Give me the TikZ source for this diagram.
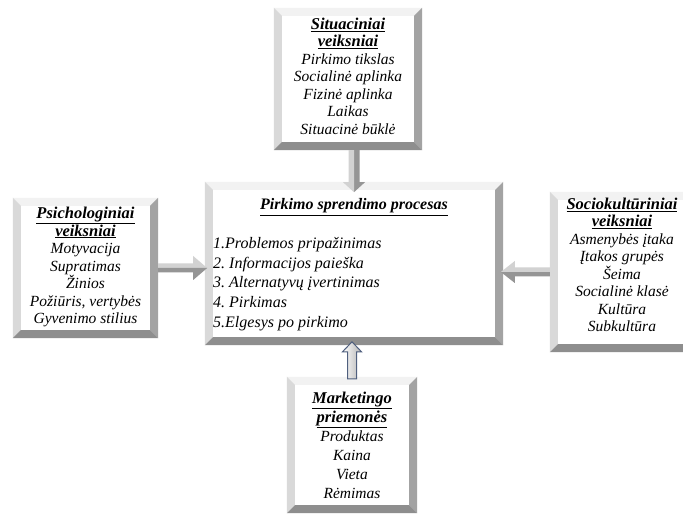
\documentclass[tikz,border=0pt]{standalone}
\usepackage{fontspec}
\setmainfont{Liberation Serif}
\usetikzlibrary{calc}
\frenchspacing

\definecolor{bevTop}{HTML}{F2F2F2}
\definecolor{bevLeft}{HTML}{D9D9D9}
\definecolor{bevRight}{HTML}{A3A3A3}
\definecolor{bevBottom}{HTML}{8E8E8E}
\definecolor{arrLight}{HTML}{D2D2D2}
\definecolor{arrDark}{HTML}{959595}
\definecolor{arrEdge}{HTML}{4F5F7E}

% heading line: bold italic, underlined
\newcommand\hd[1]{{\fontsize{16.5}{19}\selectfont\bfseries\underline{#1}}}

% four bevel bands round a rectangular node
\newcommand\bevelbox[1]{%
  \fill[bevTop] (#1.north west) -- (#1.north east) -- ([shift={(-8pt,-8pt)}]#1.north east) -- ([shift={(8pt,-8pt)}]#1.north west) -- cycle;
  \fill[bevLeft] (#1.north west) -- (#1.south west) -- ([shift={(8pt,8pt)}]#1.south west) -- ([shift={(8pt,-8pt)}]#1.north west) -- cycle;
  \fill[bevRight] (#1.north east) -- (#1.south east) -- ([shift={(-8pt,8pt)}]#1.south east) -- ([shift={(-8pt,-8pt)}]#1.north east) -- cycle;
  \fill[bevBottom] (#1.south west) -- (#1.south east) -- ([shift={(-8pt,8pt)}]#1.south east) -- ([shift={(8pt,8pt)}]#1.south west) -- cycle;
}

\tikzset{
  panel/.style={rectangle, inner sep=0pt, align=center,
    font=\itshape\fontsize{15.5}{17.5}\selectfont},
  % two-tone block arrow pointing along +x:
  % length, shaft half width, head half width, head length, colour of +y half, colour of -y half
  pics/blockarrow/.style n args={6}{code={
    \fill[#5] (0pt,0pt) -- (0pt,#2pt) -- ({#1pt-#4pt},#2pt) -- ({#1pt-#4pt},#3pt) -- (#1pt,0pt) -- cycle;
    \fill[#6] (0pt,0pt) -- (0pt,-#2pt) -- ({#1pt-#4pt},-#2pt) -- ({#1pt-#4pt},-#3pt) -- (#1pt,0pt) -- cycle;
  }}
}

\begin{document}
\begin{tikzpicture}[x=1pt,y=-1pt]
\path[use as bounding box, clip] (0,0) rectangle (683,518);
\fill[white] (0,0) rectangle (683,518);

% box frames
\node[panel, minimum width=148pt, minimum height=142pt] (sit) at (348,79) {};
\node[panel, minimum width=298pt, minimum height=163pt] (proc) at (354,263.5) {};
\node[panel, minimum width=145pt, minimum height=140pt] (psych) at (85.5,268) {};
\node[panel, minimum width=144pt, minimum height=160pt] (socio) at (622,272) {};
\node[panel, minimum width=130pt, minimum height=136pt] (mkt) at (352,445) {};

\foreach \b in {sit,proc,psych,socio,mkt} {\bevelbox{\b}}

% box texts
\node[panel] (sittext) at ([yshift=3pt]sit.center)
  {\hd{Situaciniai}\\\hd{veiksniai}\\Pirkimo tikslas\\Socialinė aplinka\\Fizinė aplinka\\Laikas\\Situacinė būklė};
\node[panel] (psychtext) at ([yshift=1pt]psych.center)
  {\hd{Psichologiniai}\\\hd{veiksniai}\\Motyvacija\\Supratimas\\Žinios\\Požiūris, vertybės\\Gyvenimo stilius};
\node[panel] (sociotext) at ([yshift=7pt]socio.center)
  {\hd{Sociokultūriniai}\\\hd{veiksniai}\\Asmenybės įtaka\\Įtakos grupės\\Šeima\\Socialinė klasė\\Kultūra\\Subkultūra};
\node[panel, font=\itshape\fontsize{15.5}{19}\selectfont] (mkttext) at (mkt.center)
  {\hd{Marketingo}\\\hd{priemonės}\\Produktas\\Kaina\\Vieta\\Rėmimas};

\node[anchor=base, inner sep=0pt, font=\itshape\bfseries\fontsize{16}{19}\selectfont] (proctitle) at (354,210)
  {\underline{Pirkimo sprendimo procesas}};
\node[anchor=north west, inner sep=0pt, align=left, font=\itshape\fontsize{16}{19.7}\selectfont] (steps) at (213,237)
  {1.Problemos pripažinimas\\2. Informacijos paieška\\3. Alternatyvų įvertinimas\\4. Pirkimas\\5.Elgesys po pirkimo};

% gray block arrows into the central box
\pic[rotate=-90] at (sit.south -| proc.north) {blockarrow={42}{5.5}{11}{10}{arrDark}{arrLight}};
\pic at (psych.east) {blockarrow={49}{4.5}{12}{14}{arrLight}{arrDark}};
\pic[rotate=180] at (socio.west) {blockarrow={49}{4.5}{11}{14}{arrDark}{arrLight}};

% outlined arrow from the marketing box
\begin{scope}[shift={(mkt.north)}]
  \draw[arrEdge, line width=1pt, left color=white, right color=gray!60, line join=miter]
    (-4.5pt,-2pt) -- (-4.5pt,25pt) -- (-9.5pt,25pt) -- (0pt,35pt) -- (9.5pt,25pt) -- (4.5pt,25pt) -- (4.5pt,-2pt) -- cycle;
\end{scope}
\end{tikzpicture}
\end{document}
